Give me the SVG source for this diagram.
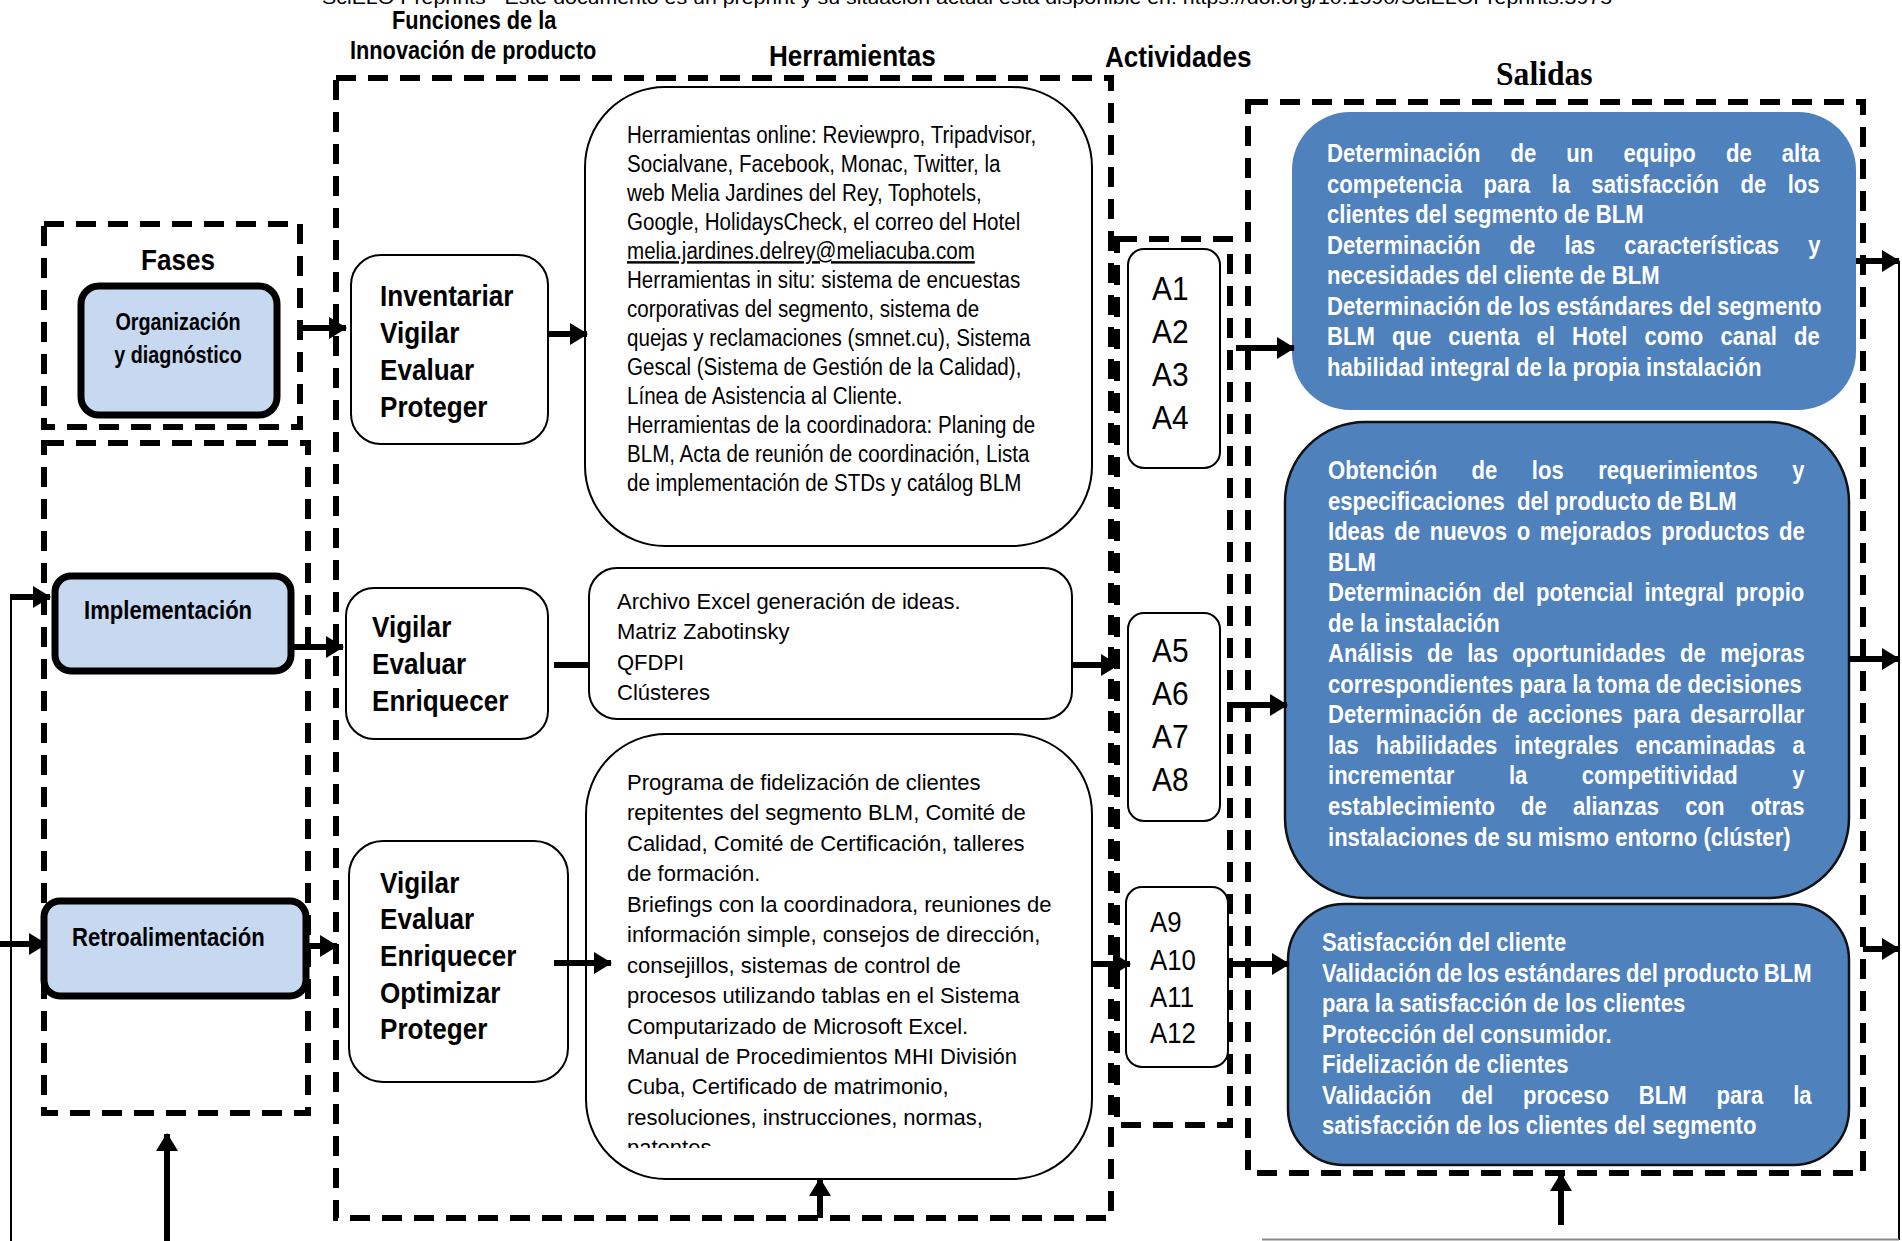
<svg xmlns="http://www.w3.org/2000/svg" width="1902" height="1241" viewBox="0 0 1902 1241">
<style>
.dash{fill:none;stroke:#000;stroke-width:6;stroke-dasharray:20 12}
.box{fill:#fff;stroke:#000;stroke-width:2}
.phase{fill:#c6d9f1;stroke:#000;stroke-width:7}
.out{fill:#4f81bd}
.out2{fill:#4f81bd;stroke:#111;stroke-width:2.5}
.conn{stroke:#000;stroke-width:6;fill:none}
.thin{stroke:#000;stroke-width:2;fill:none}
text{font-family:"Liberation Sans",Arial,sans-serif;fill:#000}
.b{font-weight:bold}
.w{fill:#fff;font-weight:bold;font-size:26px}
.reg22{font-size:22px}
</style>
<defs>
<marker id="ah" markerUnits="userSpaceOnUse" markerWidth="18" markerHeight="22" refX="17" refY="11" orient="auto"><path d="M0,0 L18,11 L0,22 z" fill="#000"/></marker>
<clipPath id="clipT2"><rect x="590" y="570" width="480" height="133"/></clipPath>
<clipPath id="clipT3"><rect x="590" y="740" width="500" height="408"/></clipPath>
</defs>

<!-- header -->
<g id="headers">
<text x="322" y="4" font-size="19" textLength="1290" lengthAdjust="spacingAndGlyphs">SciELO Preprints - Este documento es un preprint y su situación actual está disponible en: https://doi.org/10.1590/SciELOPreprints.3975</text>
<text class="b" font-size="25" transform="translate(392,29) scale(0.87,1)">Funciones de la</text>
<text class="b" font-size="25" transform="translate(350,59) scale(0.87,1)">Innovación de producto</text>
<text class="b" font-size="29" transform="translate(769,66) scale(0.9,1)">Herramientas</text>
<text class="b" font-size="29" transform="translate(1105,67) scale(0.9,1)">Actividades</text>
<text class="b" font-size="34" style="font-family:'Liberation Serif','Times New Roman',serif" transform="translate(1496,85) scale(0.93,1)">Salidas</text>
</g>

<!-- containers -->
<g id="containers">
<rect class="dash" x="44" y="224" width="256" height="203"/>
<rect class="dash" x="44" y="443" width="264" height="670"/>
<rect class="dash" x="336" y="78" width="775" height="1140"/>
<rect class="dash" x="1117" y="239" width="113" height="886"/>
<rect class="dash" x="1248" y="102" width="615" height="1071"/>
</g>

<g id="fases">
<text class="b" font-size="29" transform="translate(141,270) scale(0.9,1)">Fases</text>
</g>
<g id="organizacion">
<rect class="phase" x="81" y="286" width="196" height="129" rx="18"/>
<text class="b" font-size="23" text-anchor="middle" transform="translate(178,330) scale(0.86,1)">Organización</text>
<text class="b" font-size="23" text-anchor="middle" transform="translate(178,363) scale(0.86,1)">y diagnóstico</text>
</g>
<g id="implementacion">
<rect class="phase" x="55" y="576" width="236" height="95" rx="16"/>
<text class="b" font-size="26" transform="translate(84,619) scale(0.85,1)">Implementación</text>
</g>
<g id="retroalimentacion">
<rect class="phase" x="44" y="901" width="262" height="95" rx="16"/>
<text class="b" font-size="26" transform="translate(72,946) scale(0.85,1)">Retroalimentación</text>
</g>

<!-- function boxes -->
<g id="func1">
<rect class="box" x="351" y="255" width="197" height="189" rx="30"/>
<text class="b" font-size="30" transform="translate(380,0) scale(0.87,1)"><tspan x="0" y="306">Inventariar</tspan><tspan x="0" y="343">Vigilar</tspan><tspan x="0" y="380">Evaluar</tspan><tspan x="0" y="417">Proteger</tspan></text>
</g>
<g id="func2">
<rect class="box" x="346" y="588" width="202" height="151" rx="28"/>
<text class="b" font-size="30" transform="translate(372,0) scale(0.87,1)"><tspan x="0" y="637">Vigilar</tspan><tspan x="0" y="674">Evaluar</tspan><tspan x="0" y="711">Enriquecer</tspan></text>
</g>
<g id="func3">
<rect class="box" x="349" y="841" width="219" height="241" rx="34"/>
<text class="b" font-size="30" transform="translate(380,0) scale(0.87,1)"><tspan x="0" y="893">Vigilar</tspan><tspan x="0" y="929">Evaluar</tspan><tspan x="0" y="966">Enriquecer</tspan><tspan x="0" y="1003">Optimizar</tspan><tspan x="0" y="1039">Proteger</tspan></text>
</g>

<!-- tools -->
<g id="tool1">
<rect class="box" x="585" y="87" width="507" height="459" rx="80"/>
<text font-size="24.5" transform="translate(627,0) scale(0.84,1)">
<tspan x="0" y="143">Herramientas online: Reviewpro, Tripadvisor,</tspan>
<tspan x="0" y="172">Socialvane, Facebook, Monac, Twitter, la</tspan>
<tspan x="0" y="201">web Melia Jardines del Rey, Tophotels,</tspan>
<tspan x="0" y="230">Google, HolidaysCheck, el correo del Hotel</tspan>
<tspan x="0" y="259" text-decoration="underline">melia.jardines.delrey@meliacuba.com</tspan>
<tspan x="0" y="288">Herramientas in situ: sistema de encuestas</tspan>
<tspan x="0" y="317">corporativas del segmento, sistema de</tspan>
<tspan x="0" y="346">quejas y reclamaciones (smnet.cu), Sistema</tspan>
<tspan x="0" y="375">Gescal (Sistema de Gestión de la Calidad),</tspan>
<tspan x="0" y="404">Línea de Asistencia al Cliente.</tspan>
<tspan x="0" y="433">Herramientas de la coordinadora: Planing de</tspan>
<tspan x="0" y="462">BLM, Acta de reunión de coordinación, Lista</tspan>
<tspan x="0" y="491">de implementación de STDs y catálog BLM</tspan>
</text>
</g>
<g id="tool2">
<rect class="box" x="589" y="568" width="483" height="151" rx="28"/>
<text class="reg22" clip-path="url(#clipT2)">
<tspan x="617" y="609">Archivo Excel generación de ideas.</tspan>
<tspan x="617" y="639">Matriz Zabotinsky</tspan>
<tspan x="617" y="670">QFDPI</tspan>
<tspan x="617" y="700">Clústeres</tspan>
</text>
</g>
<g id="tool3">
<rect class="box" x="586" y="734" width="506" height="445" rx="80"/>
<text class="reg22" clip-path="url(#clipT3)">
<tspan x="627" y="790">Programa de fidelización de clientes</tspan>
<tspan x="627" y="820">repitentes del segmento BLM, Comité de</tspan>
<tspan x="627" y="851">Calidad, Comité de Certificación, talleres</tspan>
<tspan x="627" y="881">de formación.</tspan>
<tspan x="627" y="912">Briefings con la coordinadora, reuniones de</tspan>
<tspan x="627" y="942">información simple, consejos de dirección,</tspan>
<tspan x="627" y="973">consejillos, sistemas de control de</tspan>
<tspan x="627" y="1003">procesos utilizando tablas en el Sistema</tspan>
<tspan x="627" y="1034">Computarizado de Microsoft Excel.</tspan>
<tspan x="627" y="1064">Manual de Procedimientos MHI División</tspan>
<tspan x="627" y="1094">Cuba, Certificado de matrimonio,</tspan>
<tspan x="627" y="1125">resoluciones, instrucciones, normas,</tspan>
<tspan x="627" y="1155">patentes</tspan>
</text>
</g>

<!-- activities -->
<g id="act1">
<rect class="box" x="1128" y="249" width="92" height="219" rx="16"/>
<text font-size="34" transform="translate(1152,0) scale(0.88,1)"><tspan x="0" y="300">A1</tspan><tspan x="0" y="343">A2</tspan><tspan x="0" y="386">A3</tspan><tspan x="0" y="429">A4</tspan></text>
</g>
<g id="act2">
<rect class="box" x="1128" y="613" width="92" height="208" rx="16"/>
<text font-size="34" transform="translate(1152,0) scale(0.88,1)"><tspan x="0" y="662">A5</tspan><tspan x="0" y="705">A6</tspan><tspan x="0" y="748">A7</tspan><tspan x="0" y="791">A8</tspan></text>
</g>
<g id="act3">
<rect class="box" x="1126" y="887" width="102" height="180" rx="16"/>
<text font-size="30" transform="translate(1150,0) scale(0.86,1)"><tspan x="0" y="932">A9</tspan><tspan x="0" y="970">A10</tspan><tspan x="0" y="1007">A11</tspan><tspan x="0" y="1043">A12</tspan></text>
</g>

<!-- outputs -->
<g id="salida1">
<rect class="out" x="1292" y="112" width="564" height="298" rx="58"/>
<text class="w" transform="translate(1327,0) scale(0.85,1)">
<tspan x="0" y="162" word-spacing="28.2">Determinación de un equipo de alta</tspan>
<tspan x="0" y="193" word-spacing="18">competencia para la satisfacción de los</tspan>
<tspan x="0" y="223">clientes del segmento de BLM</tspan>
<tspan x="0" y="254" word-spacing="27.1">Determinación de las características y</tspan>
<tspan x="0" y="284">necesidades del cliente de BLM</tspan>
<tspan x="0" y="315">Determinación de los estándares del segmento</tspan>
<tspan x="0" y="345" word-spacing="12.9">BLM que cuenta el Hotel como canal de</tspan>
<tspan x="0" y="376">habilidad integral de la propia instalación</tspan>
</text>
</g>
<g id="salida2">
<rect class="out2" x="1285" y="422" width="564" height="476" rx="80"/>
<text class="w" transform="translate(1328,0) scale(0.85,1)">
<tspan x="0" y="479" word-spacing="33.3">Obtención de los requerimientos y</tspan>
<tspan x="0" y="510" style="white-space:pre">especificaciones  del producto de BLM</tspan>
<tspan x="0" y="540" word-spacing="4.2">Ideas de nuevos o mejorados productos de</tspan>
<tspan x="0" y="571">BLM</tspan>
<tspan x="0" y="601" word-spacing="6.2">Determinación del potencial integral propio</tspan>
<tspan x="0" y="632">de la instalación</tspan>
<tspan x="0" y="662" word-spacing="9.7">Análisis de las oportunidades de mejoras</tspan>
<tspan x="0" y="693">correspondientes para la toma de decisiones</tspan>
<tspan x="0" y="723" word-spacing="5.1">Determinación de acciones para desarrollar</tspan>
<tspan x="0" y="754" word-spacing="12.8">las habilidades integrales encaminadas a</tspan>
<tspan x="0" y="784" word-spacing="56.9">incrementar la competitividad y</tspan>
<tspan x="0" y="815" word-spacing="23.6">establecimiento de alianzas con otras</tspan>
<tspan x="0" y="846">instalaciones de su mismo entorno (clúster)</tspan>
</text>
</g>
<g id="salida3">
<rect class="out2" x="1288" y="904" width="561" height="261" rx="56"/>
<text class="w" transform="translate(1322,0) scale(0.85,1)">
<tspan x="0" y="951">Satisfacción del cliente</tspan>
<tspan x="0" y="982" word-spacing="-1.2">Validación de los estándares del producto BLM</tspan>
<tspan x="0" y="1012">para la satisfacción de los clientes</tspan>
<tspan x="0" y="1043">Protección del consumidor.</tspan>
<tspan x="0" y="1073">Fidelización de clientes</tspan>
<tspan x="0" y="1104" word-spacing="28">Validación del proceso BLM para la</tspan>
<tspan x="0" y="1134">satisfacción de los clientes del segmento</tspan>
</text>
</g>

<!-- connectors -->
<g id="connectors">
<path class="conn" d="M298,328 H346" marker-end="url(#ah)"/>
<path class="conn" d="M548,334 H587" marker-end="url(#ah)"/>
<path class="conn" d="M291,647 H343" marker-end="url(#ah)"/>
<path class="conn" d="M554,665 H589"/>
<path class="conn" d="M1072,665 H1118" marker-end="url(#ah)"/>
<path class="conn" d="M306,946 H337" marker-end="url(#ah)"/>
<path class="conn" d="M554,963 H611" marker-end="url(#ah)"/>
<path class="conn" d="M1092,964 H1130" marker-end="url(#ah)"/>
<path class="thin" d="M11,1241 V597"/>
<path class="conn" d="M10,597 H50" marker-end="url(#ah)"/>
<path class="conn" d="M0,944 H46" marker-end="url(#ah)"/>
<path class="conn" d="M167,1241 V1134" marker-end="url(#ah)"/>
<path class="conn" d="M820,1218 V1179" marker-end="url(#ah)"/>
<path class="conn" d="M1561,1225 V1174" marker-end="url(#ah)"/>
<path class="conn" d="M1236,348 H1294" marker-end="url(#ah)"/>
<path class="conn" d="M1230,705 H1287" marker-end="url(#ah)"/>
<path class="conn" d="M1230,964 H1289" marker-end="url(#ah)"/>
<path class="conn" d="M1856,261 H1899" marker-end="url(#ah)"/>
<path class="conn" d="M1849,659 H1899" marker-end="url(#ah)"/>
<path class="conn" d="M1863,949 H1899" marker-end="url(#ah)"/>
<path class="thin" d="M1899,261 V1240"/>
<path d="M1262,1239.5 H1899" stroke="#888" stroke-width="2" fill="none"/>
</g>
</svg>
